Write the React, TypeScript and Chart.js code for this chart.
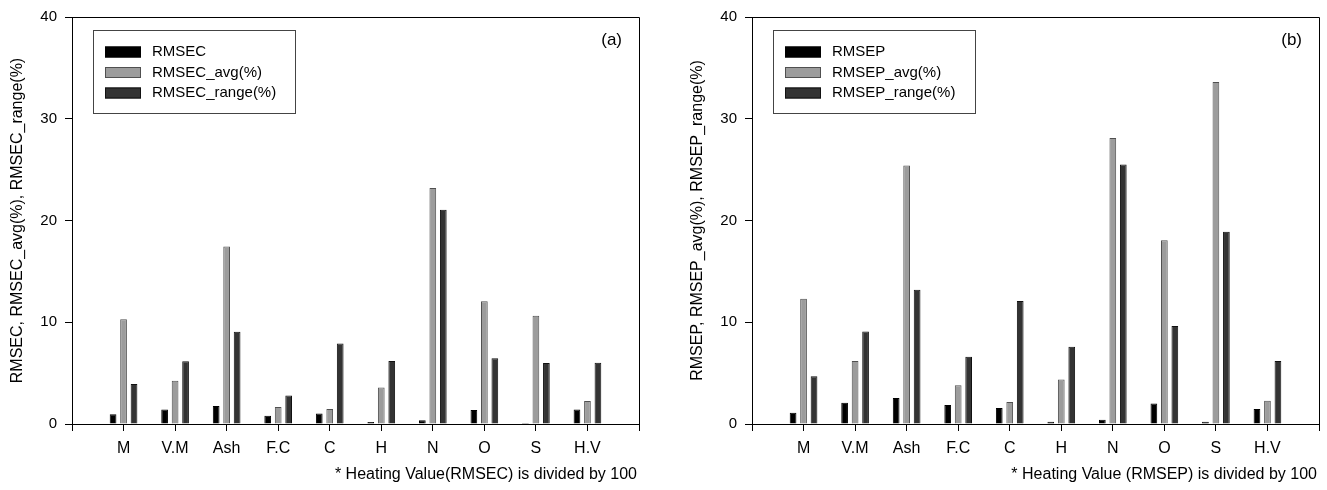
import React, { useEffect, useRef } from 'react';
import { Chart, registerables } from 'chart.js';

Chart.register(...registerables);

const FONT = "'Liberation Sans', Arial, Helvetica, sans-serif";

const categories = ['M', 'V.M', 'Ash', 'F.C', 'C', 'H', 'N', 'O', 'S', 'H.V'];

const rmsec = [0.95, 1.43, 1.76, 0.82, 1.04, 0.2, 0.36, 1.37, 0.1, 1.43];
const rmsecAvg = [10.3, 4.24, 17.44, 1.66, 1.47, 3.59, 23.2, 12.06, 10.63, 2.25];
const rmsecRange = [3.94, 6.16, 9.06, 2.8, 7.92, 6.19, 21.06, 6.45, 6.0, 6.03];

const rmsep = [1.1, 2.09, 2.55, 1.86, 1.57, 0.23, 0.42, 2.02, 0.23, 1.47];
const rmsepAvg = [12.3, 6.2, 25.4, 3.82, 2.16, 4.37, 28.1, 18.07, 33.6, 2.28];
const rmsepRange = [4.7, 9.1, 13.2, 6.6, 12.09, 7.6, 25.5, 9.64, 18.9, 6.18];

const yMin = 0;
const yMax = 40;
const yStep = 10;

const seriesColors = ['#000000', '#9c9c9c', '#333333'];
const seriesBorders = ['#000000', '#505050', '#111111'];

const decorPlugin = {
  id: 'decor',
  afterDraw(chart: any, _args: any, opts: any) {
    const ctx = chart.ctx;
    const ca = chart.chartArea;
    ctx.save();
    // frame top & right
    ctx.strokeStyle = '#000';
    ctx.lineWidth = 1;
    ctx.beginPath();
    ctx.moveTo(Math.round(ca.left) + 0.5, Math.round(ca.top) + 0.5);
    ctx.lineTo(Math.round(ca.right) + 0.5, Math.round(ca.top) + 0.5);
    ctx.lineTo(Math.round(ca.right) + 0.5, Math.round(ca.bottom) + 0.5);
    ctx.stroke();

    // legend box
    ctx.strokeStyle = '#444';
    ctx.strokeRect(93.5, 30.5, 202, 83);
    const rows = [52, 72.5, 93];
    ctx.font = `15px ${FONT}`;
    ctx.textBaseline = 'middle';
    ctx.textAlign = 'left';
    chart.data.datasets.forEach((ds: any, i: number) => {
      const y = rows[i];
      ctx.fillStyle = ds.backgroundColor;
      ctx.fillRect(105, y - 5.5, 36, 11);
      ctx.strokeStyle = ds.borderColor;
      ctx.strokeRect(105.5, y - 5, 35, 10);
      ctx.fillStyle = '#000';
      ctx.fillText(ds.label, 152, y);
    });

    // panel label
    ctx.font = `17px ${FONT}`;
    ctx.textBaseline = 'alphabetic';
    ctx.textAlign = 'right';
    ctx.fillStyle = '#000';
    ctx.fillText(opts.panel, 622, 45);

    // footnote
    ctx.font = `16px ${FONT}`;
    ctx.fillText(opts.note, 637, 479);
    ctx.restore();
  },
};

type PanelProps = {
  left: number;
  labels: string[];
  series: number[][];
  yTitle: string;
  panel: string;
  note: string;
};

function Panel({ left, labels, series, yTitle, panel, note }: PanelProps) {
  const ref = useRef<HTMLCanvasElement | null>(null);
  useEffect(() => {
    if (!ref.current) return;
    const xLabels = ['', ...categories, ''];
    const chart = new Chart(ref.current, {
      type: 'bar',
      data: {
        labels: xLabels,
        datasets: series.map((vals, i) => ({
          label: labels[i],
          data: [null, ...vals, null],
          backgroundColor: seriesColors[i],
          borderColor: seriesBorders[i],
          borderWidth: 1,
          borderSkipped: 'start',
          categoryPercentage: 0.61,
          barPercentage: 0.64,
        })),
      },
      options: {
        responsive: false,
        animation: false,
        events: [],
        layout: { padding: { top: 15, right: 8, bottom: 0, left: 0 } },
        plugins: {
          legend: { display: false },
          tooltip: { enabled: false },
          decor: { panel, note },
        } as any,
        scales: {
          x: {
            type: 'category',
            offset: false,
            grid: {
              drawOnChartArea: false,
              drawTicks: true,
              tickLength: 7,
              color: '#000',
              offset: false,
            },
            border: { display: true, color: '#000', width: 1 },
            ticks: {
              color: '#000',
              font: { family: FONT, size: 16 },
              padding: 8,
              maxRotation: 0,
              autoSkip: false,
            },
            afterFit: (s: any) => {
              s.height = 66;
            },
          },
          y: {
            min: yMin,
            max: yMax,
            grid: {
              drawOnChartArea: false,
              drawTicks: true,
              tickLength: 7,
              color: '#000',
            },
            border: { display: true, color: '#000', width: 1 },
            ticks: {
              stepSize: yStep,
              color: '#000',
              font: { family: FONT, size: 15 },
              padding: 8,
            },
            title: {
              display: true,
              text: yTitle,
              color: '#000',
              font: { family: FONT, size: 16 },
              padding: { top: 8, bottom: 0 },
            },
            afterFit: (s: any) => {
              s.width = 72;
            },
          },
        },
      },
      plugins: [decorPlugin],
    } as any);
    return () => chart.destroy();
  }, []);
  return (
    <canvas
      ref={ref}
      width={647}
      height={490}
      style={{ position: 'absolute', left, top: 0, width: 647, height: 490, display: 'block' }}
    />
  );
}

export default function App() {
  return (
    <div
      style={{
        position: 'absolute',
        left: 0,
        top: 0,
        width: 1327,
        height: 490,
        overflow: 'hidden',
        background: '#fff',
      }}
    >
      <Panel
        left={0}
        labels={['RMSEC', 'RMSEC_avg(%)', 'RMSEC_range(%)']}
        series={[rmsec, rmsecAvg, rmsecRange]}
        yTitle="RMSEC, RMSEC_avg(%), RMSEC_range(%)"
        panel="(a)"
        note="* Heating Value(RMSEC) is divided by 100"
      />
      <Panel
        left={680}
        labels={['RMSEP', 'RMSEP_avg(%)', 'RMSEP_range(%)']}
        series={[rmsep, rmsepAvg, rmsepRange]}
        yTitle="RMSEP, RMSEP_avg(%), RMSEP_range(%)"
        panel="(b)"
        note="* Heating Value (RMSEP) is divided by 100"
      />
    </div>
  );
}
